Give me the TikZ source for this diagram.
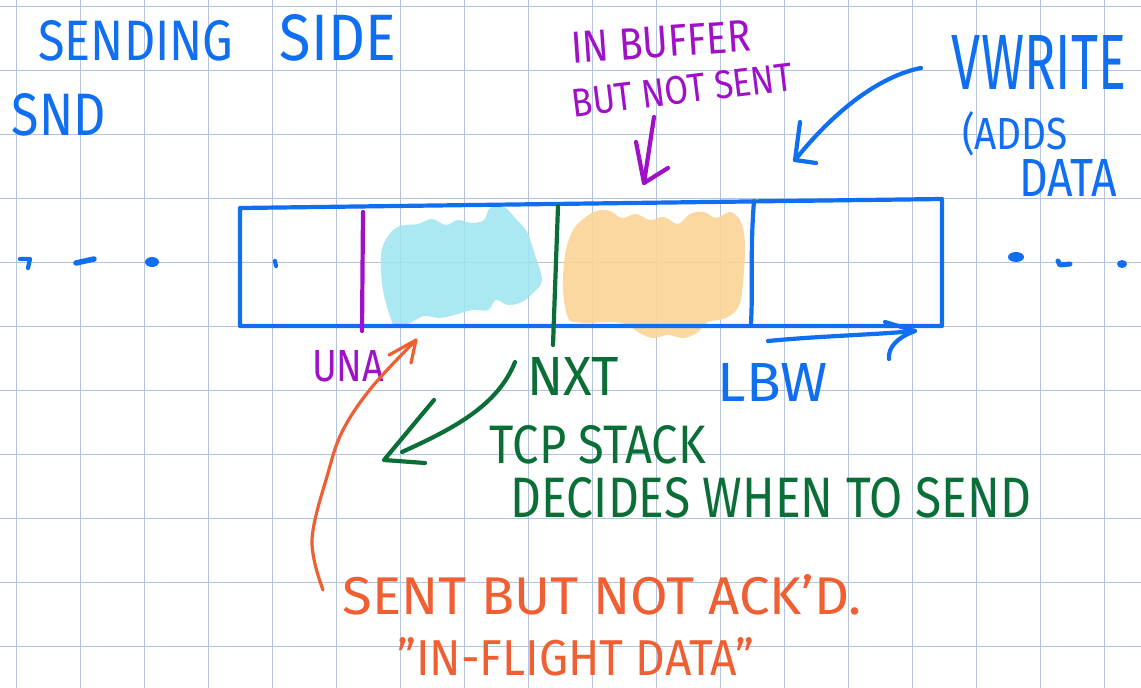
\documentclass[tikz,border=0pt]{standalone}
\usepackage{fontspec}
\setmainfont{Fira Sans}
\definecolor{inkblue}{RGB}{16,110,240}
\definecolor{inkpurple}{RGB}{160,16,200}
\definecolor{inkgreen}{RGB}{10,110,55}
\definecolor{inkorange}{RGB}{240,95,50}
\definecolor{hlcyan}{RGB}{158,228,240}
\definecolor{hlorange}{RGB}{250,212,150}
\definecolor{gridline}{RGB}{180,196,222}
% fit a caption into a box of the given width and height (pt)
\newcommand\hw[3]{\resizebox{#1pt}{#2pt}{#3}}
\begin{document}
\begin{tikzpicture}[x=1pt,y=-1pt,
  pen/.style={line width=4.2pt,line cap=round,line join=round},
  note/.style={inner sep=0pt,outer sep=0pt}]
\useasboundingbox (0,0) rectangle (1141,688);
\fill[white] (0,0) rectangle (1141,688);
% squared paper
\foreach \k in {0,...,17} \draw[gridline,line width=1.3pt] ({16.7+64*\k},0) -- ({16.7+64*\k},688);
\foreach \k in {0,...,10} \draw[gridline,line width=1.3pt] (0,{6.7+64*\k}) -- (1141,{6.7+64*\k});

% highlighted regions of the buffer
\fill[hlcyan,fill opacity=0.85] plot[smooth cycle,tension=0.6] coordinates {
  (392,322) (383,290) (381,255) (388,236) (400,226) (418,224) (432,219) (446,225)
  (458,220) (472,223) (484,220) (490,208) (504,207) (516,219) (527,232) (535,255)
  (542,280) (534,292) (522,302) (508,305) (496,300) (488,310) (472,310) (458,314)
  (440,318) (424,316) (410,323) (398,326)};
\fill[hlorange,fill opacity=0.9] plot[smooth cycle,tension=0.6] coordinates {
  (568,318) (563,290) (565,255) (572,232) (582,220) (596,211) (610,211) (622,218)
  (636,214) (650,220) (664,217) (678,224) (690,214) (704,212) (716,218) (730,212)
  (741,222) (745,245) (743,282) (739,306) (726,318) (708,322) (698,332) (684,338)
  (668,335) (652,338) (638,332) (626,324) (608,322) (590,323) (576,322)};

% the buffer
\draw[pen,inkblue] (240,208) -- (942,199) -- (942,326) -- (240,326) -- cycle;
\draw[pen,inkpurple] (363,212) -- (362,331);
\draw[pen,inkgreen] (558,206) -- (553,345);
\draw[pen,inkblue] (754,201) .. controls (750,250) and (753,290) .. (751,323);

% dots before and after the buffer
\draw[pen,inkblue] (20,259) -- (30,259) -- (28,268);
\draw[pen,inkblue,line width=5.5pt] (76,263) -- (94,259);
\fill[inkblue] (152,262) ellipse (7 and 5);
\draw[pen,inkblue] (275,261) -- (276,266);
\fill[inkblue] (1016,257) ellipse (8 and 5);
\draw[pen,inkblue,line width=5pt] (1058,261) -- (1060,265) -- (1070,264);
\fill[inkblue] (1122,264) ellipse (5 and 4);

% captions
\node[note,text=inkblue] (sending) at (136,41) {\hw{195}{40}{SENDING}};
\node[note,text=inkblue] (side) at (338,38) {\hw{116}{46}{SIDE}};
\node[note,text=inkblue] (snd) at (59,115) {\hw{94}{42}{SND}};
\node[note,text=inkpurple,rotate=4] (inbuf) at (661,42) {\hw{180}{31}{IN BUFFER}};
\node[note,text=inkpurple,rotate=7] (notsent) at (682,90) {\hw{222}{28}{BUT NOT SENT}};
\node[note,text=inkblue] (write) at (1039,62) {\hw{174}{54}{VWRITE}};
\node[note,text=inkblue] (adds) at (1015,134) {\hw{106}{38}{(ADDS}};
\node[note,text=inkblue] (data) at (1068,178) {\hw{98}{37}{DATA}};
\node[note,text=inkpurple] (una) at (348,366) {\hw{72}{31}{UNA}};
\node[note,text=inkgreen] (nxt) at (573,376) {\hw{92}{38}{NXT}};
\node[note,text=inkblue] (lbw) at (773,382) {\hw{110}{38}{LBW}};
\node[note,text=inkgreen] (tcp) at (598,445) {\hw{216}{38}{TCP STACK}};
\node[note,text=inkgreen] (decides) at (771,498) {\hw{520}{40}{DECIDES WHEN TO SEND}};
\node[note,text=inkorange] (sent) at (602,595) {\hw{518}{40}{SENT BUT NOT ACK'D.}};
\node[note,text=inkorange] (flight) at (576,657) {\hw{357}{38}{"IN-FLIGHT DATA"}};

% arrows
\coordinate (wtail) at (921,68);   \coordinate (wtip) at (795,160);
\draw[pen,inkblue] (wtail) .. controls (880,76) and (835,110) .. (wtip);
\draw[pen,inkblue] (800,122) -- (wtip) -- (816,163);

\coordinate (ptail) at (654,117);  \coordinate (ptip) at (644,183);
\draw[pen,inkpurple] (ptail) -- (ptip);
\draw[pen,inkpurple] (636,142) -- (ptip) -- (668,168);

\coordinate (gtail) at (515,362);  \coordinate (gtip) at (384,460);
\draw[pen,inkgreen] (gtail) .. controls (498,405) and (455,428) .. (402,452);
\draw[pen,inkgreen] (434,400) -- (gtip) -- (425,463);

\coordinate (otail) at (323,590);  \coordinate (otip) at (416,340);
\draw[pen,inkorange,line width=3.2pt] plot[smooth,tension=0.6] coordinates
  {(otail) (312,540) (328,473) (343,430) (372,387) (otip)};
\draw[pen,inkorange,line width=3.2pt] (389,355) -- (otip) -- (411,363);

\coordinate (btail) at (768,341);  \coordinate (btip) at (915,331);
\draw[pen,inkblue] (btail) .. controls (820,336) and (870,335) .. (btip);
\draw[pen,inkblue] (885,322) -- (btip) .. controls (896,338) and (888,348) .. (889,359);
\end{tikzpicture}
\end{document}
